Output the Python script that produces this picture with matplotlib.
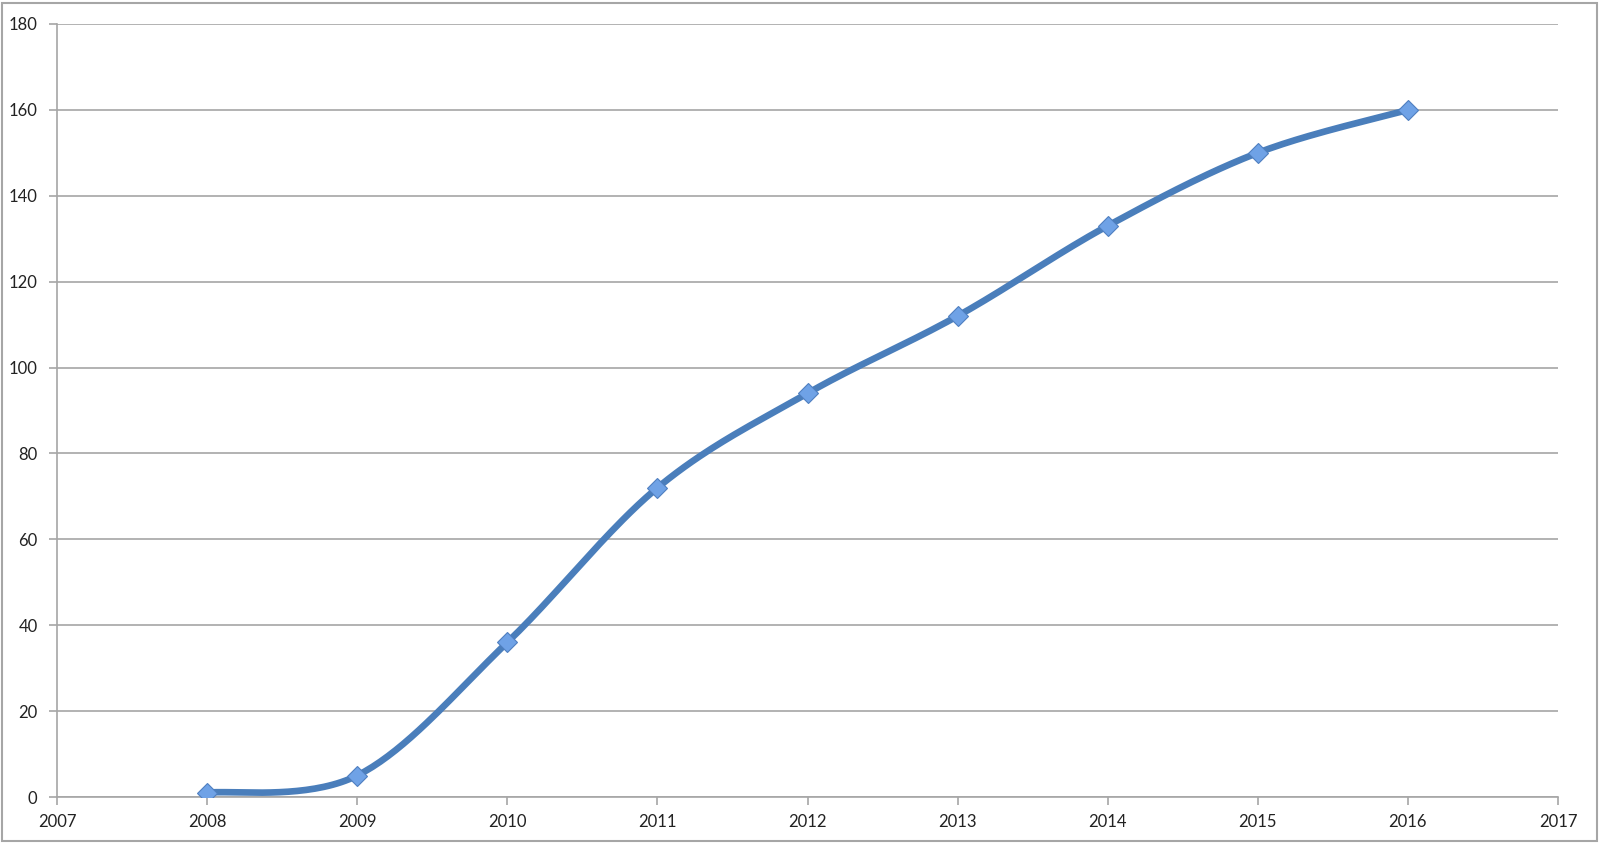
import matplotlib.pyplot as plt
import numpy as np
from matplotlib.patches import Rectangle

years = [2008, 2009, 2010, 2011, 2012, 2013, 2014, 2015, 2016]
values = [1, 5, 36, 72, 94, 112, 133, 150, 160]

plt.rcParams['font.family'] = ['Lato', 'DejaVu Sans']

fig = plt.figure(figsize=(16, 8.43), dpi=100)
ax = fig.add_axes([57 / 1600, 1 - 797 / 843, (1558 - 57) / 1600, (797 - 24) / 843])

ax.set_xlim(2007, 2017)
ax.set_ylim(0, 180)

# Excel-style smoothing: cubic bezier with Catmull-Rom control points,
# computed in (roughly) pixel space so the curve shape matches
sx = 1501 / 10.0
sy = 773 / 180.0
px = np.array(years, float) * sx
py = np.array(values, float) * sy
n = len(px)
cx, cy = [], []
t = np.linspace(0, 1, 40)
for i in range(n - 1):
    p0 = np.array([px[max(i - 1, 0)], py[max(i - 1, 0)]])
    p1 = np.array([px[i], py[i]])
    p2 = np.array([px[i + 1], py[i + 1]])
    p3 = np.array([px[min(i + 2, n - 1)], py[min(i + 2, n - 1)]])
    c1 = p1 + (p2 - p0) / 6.0
    c2 = p2 - (p3 - p1) / 6.0
    b = ((1 - t) ** 3)[:, None] * p1 + (3 * (1 - t) ** 2 * t)[:, None] * c1 \
        + (3 * (1 - t) * t ** 2)[:, None] * c2 + (t ** 3)[:, None] * p2
    cx.extend(b[:, 0] / sx)
    cy.extend(b[:, 1] / sy)

ax.plot(cx, cy, color='#4a7ebb', lw=4.8, solid_capstyle='round', zorder=3)
ax.plot(years, values, linestyle='none', marker='D', ms=10,
        mfc='#6fa2e6', mec='#4f7fc0', mew=0.8, zorder=4)

ax.set_xticks(range(2007, 2018))
ax.set_yticks(range(0, 181, 20))
ax.grid(axis='y', color='#a6a6a6', lw=1.2)
ax.set_axisbelow(True)
for s in ['top', 'right']:
    ax.spines[s].set_visible(False)
for s in ['left', 'bottom']:
    ax.spines[s].set_color('#a6a6a6')
    ax.spines[s].set_linewidth(1.2)
ax.tick_params(axis='both', colors='#a6a6a6', labelcolor='#222222',
               labelsize=12, length=6, width=1.2)
ax.tick_params(axis='x', pad=6)
ax.tick_params(axis='y', pad=8)

fig.patches.append(Rectangle((0.001, 0.002), 0.997, 0.995, transform=fig.transFigure,
                             fill=False, edgecolor='#a6a6a6', lw=1.5))

fig.savefig('out.png', dpi=100)
